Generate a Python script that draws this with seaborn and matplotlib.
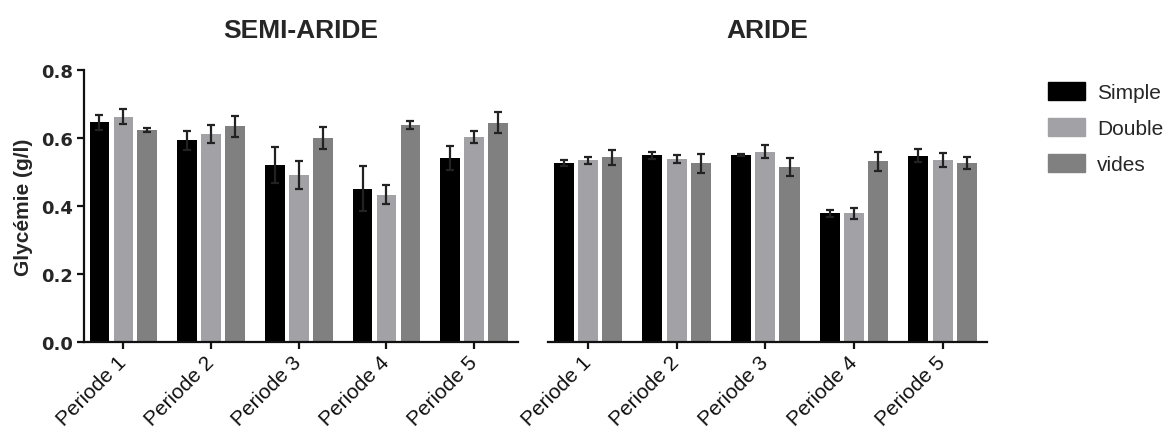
import matplotlib
matplotlib.use("Agg")
import matplotlib.pyplot as plt
import numpy as np
import pandas as pd
import seaborn as sns

# Blood glucose by period and group, for two climate zones
periods = ["Periode 1", "Periode 2", "Periode 3", "Periode 4", "Periode 5"]
groups = ["Simple", "Double", "vides"]

semi_simple = [0.646, 0.594, 0.520, 0.451, 0.542]
semi_double = [0.663, 0.611, 0.491, 0.433, 0.604]
semi_vides = [0.623, 0.634, 0.599, 0.639, 0.645]
semi_simple_err = [0.021, 0.028, 0.053, 0.066, 0.035]
semi_double_err = [0.022, 0.027, 0.042, 0.028, 0.018]
semi_vides_err = [0.006, 0.030, 0.032, 0.012, 0.031]

aride_simple = [0.526, 0.549, 0.550, 0.378, 0.548]
aride_double = [0.534, 0.538, 0.560, 0.378, 0.535]
aride_vides = [0.543, 0.526, 0.514, 0.531, 0.526]
aride_simple_err = [0.009, 0.010, 0.004, 0.010, 0.020]
aride_double_err = [0.010, 0.012, 0.020, 0.015, 0.021]
aride_vides_err = [0.022, 0.028, 0.027, 0.027, 0.017]

titles = ["SEMI-ARIDE", "ARIDE"]
ylabel = "Glycémie (g/l)"
yticks = [0.0, 0.2, 0.4, 0.6, 0.8]

palette = {"Simple": "#000000", "Double": "#a2a2a6", "vides": "#808080"}


def make_frame(simple, double, vides, e_s, e_d, e_v):
    rows = []
    for grp, vals, errs in zip(groups, [simple, double, vides], [e_s, e_d, e_v]):
        for p, v, e in zip(periods, vals, errs):
            rows.append({"periode": p, "groupe": grp, "valeur": v, "erreur": e})
    return pd.DataFrame(rows)


frames = [
    make_frame(semi_simple, semi_double, semi_vides,
               semi_simple_err, semi_double_err, semi_vides_err),
    make_frame(aride_simple, aride_double, aride_vides,
               aride_simple_err, aride_double_err, aride_vides_err),
]

sns.set_style("white")
plt.rcParams["font.family"] = ["Liberation Sans", "DejaVu Sans"]

W, H = 1173, 435
fig = plt.figure(figsize=(W / 100, H / 100), dpi=100)
ax_l = fig.add_axes([84 / W, 1 - 343 / H, 434 / W, 272 / H])
ax_r = fig.add_axes([548 / W, 1 - 343 / H, 439 / W, 272 / H], sharey=ax_l)

for ax, df, title in zip([ax_l, ax_r], frames, titles):
    sns.barplot(data=df, x="periode", y="valeur", hue="groupe",
                order=periods, hue_order=groups, palette=palette,
                width=0.82, gap=0.17, errorbar=None, saturation=1,
                linewidth=0, ax=ax)
    for grp, cont in zip(groups, ax.containers):
        sub = df[df["groupe"] == grp].set_index("periode").loc[periods]
        xs = [b.get_x() + b.get_width() / 2 for b in cont]
        ax.errorbar(xs, sub["valeur"], yerr=sub["erreur"], fmt="none",
                    ecolor="#222222", elinewidth=1.6, capsize=3.2,
                    capthick=1.6, zorder=3)
    ax.set_xlim(-0.45, 4.5)
    ax.set_ylim(0, 0.8)
    ax.set_xlabel("")
    ax.set_ylabel("")
    ax.set_title(title, fontsize=19, fontweight="bold", pad=24)
    ax.legend_.remove()
    for side in ["top", "right"]:
        ax.spines[side].set_visible(False)
    ax.spines["bottom"].set_linewidth(1.6)
    ax.spines["bottom"].set_color("#111111")
    ax.tick_params(axis="x", which="major", direction="out", length=5,
                   width=1.6, color="#111111", bottom=True, pad=7)
    plt.setp(ax.get_xticklabels(), rotation=45, ha="right", va="center",
             rotation_mode="anchor", fontsize=15, color="#111111")

ax_l.spines["left"].set_linewidth(1.6)
ax_l.spines["left"].set_color("#111111")
ax_l.set_yticks(yticks)
ax_l.set_yticklabels([f"{t:.1f}" for t in yticks], fontsize=13,
                     fontweight="bold", family="DejaVu Sans")
ax_l.tick_params(axis="y", direction="out", length=5, width=1.6,
                 color="#111111", left=True, pad=3)
ax_l.set_ylabel(ylabel, fontsize=15, fontweight="bold", labelpad=6)

ax_r.spines["left"].set_visible(False)
ax_r.tick_params(axis="y", left=False, labelleft=False)

handles = [plt.Rectangle((0, 0), 1, 1, color=palette[g]) for g in groups]
fig.legend(handles, groups, loc="upper left",
           bbox_to_anchor=(1040 / W, 1 - 75 / H), frameon=False,
           fontsize=15, handlelength=1.75, handleheight=0.95,
           handletextpad=0.6, labelspacing=0.75, borderaxespad=0)

fig.savefig("out.png", dpi=100)
